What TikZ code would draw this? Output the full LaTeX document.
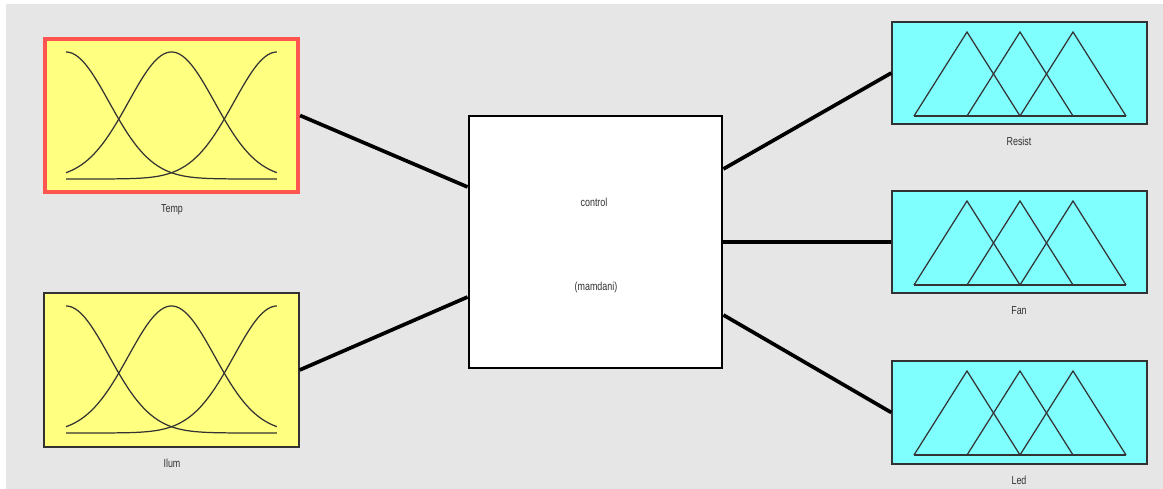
\documentclass[tikz,border=0pt]{standalone}
\usepackage{graphicx}
\usepackage{fontspec}
\setmainfont{Liberation Sans}
\usetikzlibrary{calc}
\definecolor{bggrey}{RGB}{230,230,230}
\definecolor{fisyellow}{RGB}{255,255,128}
\definecolor{fiscyan}{RGB}{128,255,255}
\definecolor{fisred}{RGB}{255,85,80}
\definecolor{edge}{RGB}{50,50,50}
\tikzset{
  mfbox/.style={draw=edge, line width=0.4pt, inner sep=0pt, minimum width=2.55cm},
  inbox/.style={mfbox, fill=fisyellow, minimum height=1.54cm},
  outbox/.style={mfbox, fill=fiscyan, minimum height=1.02cm},
  ctrlbox/.style={draw=black, line width=0.8pt, fill=white, inner sep=0pt, minimum width=2.53cm, minimum height=2.52cm},
  lbl/.style={font=\fontsize{3.3pt}{4pt}\selectfont, text=black!80, inner sep=0pt},
  conn/.style={draw=black, line width=1.05pt},
  mf/.style={draw=black!80, line width=0.35pt},
}
\newcommand{\nar}[1]{\scalebox{0.77}[1]{#1}}
\begin{document}
\begin{tikzpicture}
\useasboundingbox (0,0) rectangle (11.63,-4.89);
\fill[bggrey] (0.06,-0.04) rectangle (11.63,-4.89);

% input boxes
\node[inbox, minimum width=2.53cm, minimum height=1.53cm, draw=fisred, line width=1.2pt] (temp) at (1.715,-1.155) {};
\node[inbox] (ilum) at (1.715,-3.70) {};
% control box
\node[ctrlbox] (ctrl) at (5.955,-2.42) {};
% output boxes
\node[outbox] (resist) at (10.195,-0.73) {};
\node[outbox] (fan) at (10.195,-2.42) {};
\node[outbox, minimum height=1.03cm] (led) at (10.195,-4.125) {};

% labels
\node[lbl] (templ) at (1.72,-2.10) {\nar{Temp}};
\node[lbl] (iluml) at (1.72,-4.63) {\nar{Ilum}};
\node[lbl] (ctrll) at (5.94,-2.02) {\nar{control}};
\node[lbl] (mamd) at (5.96,-2.88) {\nar{(mamdani)}};
\node[lbl] (resistl) at (10.19,-1.41) {\nar{Resist}};
\node[lbl] (fanl) at (10.19,-3.11) {\nar{Fan}};
\node[lbl] (ledl) at (10.19,-4.80) {\nar{Led}};

% gaussian membership functions
\foreach \by in {1.79,4.33}{
  \begin{scope}[shift={(0.66,-\by)}, x=2.11cm, y=1.27cm]
    \draw[mf] plot[domain=0:1, samples=70, smooth] (\x, {exp(-(\x)^2/0.0831)});
    \draw[mf] plot[domain=0:1, samples=70, smooth] (\x, {exp(-(\x-0.5)^2/0.0831)});
    \draw[mf] plot[domain=0:1, samples=70, smooth] (\x, {exp(-(\x-1)^2/0.0831)});
  \end{scope}
}

% triangular membership functions
\foreach \by in {1.16,2.85,4.55}{
  \begin{scope}[shift={(9.14,-\by)}, x=0.53cm, y=0.84cm]
    \draw[mf] (0,0) -- (4,0);
    \draw[mf] (0,0) -- (1,1) -- (2,0);
    \draw[mf] (1,0) -- (2,1) -- (3,0);
    \draw[mf] (2,0) -- (3,1) -- (4,0);
  \end{scope}
}

% connectors
\draw[conn] (temp.east) -- ($(ctrl.west)+(0,0.55)$);
\draw[conn] (ilum.east) -- ($(ctrl.west)+(0,-0.55)$);
\draw[conn] ($(ctrl.east)+(0,0.73)$) -- (resist.west);
\draw[conn] (ctrl.east) -- (fan.west);
\draw[conn] ($(ctrl.east)+(0,-0.73)$) -- (led.west);
\end{tikzpicture}
\end{document}
